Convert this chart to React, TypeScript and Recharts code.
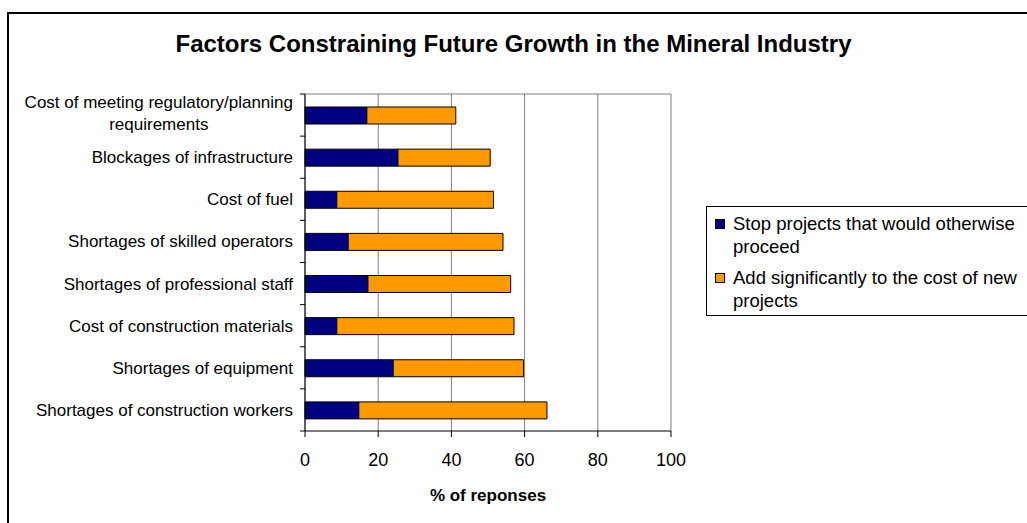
import React from "react";
import {
  Bar,
  BarChart,
  CartesianGrid,
  Label,
  Legend,
  XAxis,
  YAxis,
} from "recharts";

const categories = [
  "Cost of meeting regulatory/planning requirements",
  "Blockages of infrastructure",
  "Cost of fuel",
  "Shortages of skilled operators",
  "Shortages of professional staff",
  "Cost of construction materials",
  "Shortages of equipment",
  "Shortages of construction workers",
];
const stopProjects = [16.9, 25.4, 8.7, 11.8, 17.2, 8.7, 24.1, 14.7];
const addCost = [24.3, 25.2, 42.8, 42.3, 39.0, 48.4, 35.6, 51.4];
const xTicks = [0, 20, 40, 60, 80, 100];
const seriesNames = [
  "Stop projects that would otherwise proceed",
  "Add significantly to the cost of new projects",
];

const rows = categories.map((name, i) => ({
  name,
  stop: stopProjects[i],
  add: addCost[i],
}));

const FONT = "'Liberation Sans', Arial, sans-serif";
const W = 1027;
const H = 523;
const PLOT_LEFT = 305;
const PLOT_RIGHT = 671;
const PLOT_TOP = 94;
const PLOT_BOTTOM = 431;
const X_AXIS_H = 75;

const ctx =
  typeof document !== "undefined"
    ? document.createElement("canvas").getContext("2d")
    : null;

function textWidth(s: string, font: string) {
  if (!ctx) return s.length * 7.5;
  ctx.font = font;
  return ctx.measureText(s).width;
}

function wrap(text: string, maxChars: number) {
  const lines: string[] = [];
  let cur = "";
  for (const w of text.split(" ")) {
    if (cur && (cur + " " + w).length > maxChars) {
      lines.push(cur);
      cur = w;
    } else {
      cur = cur ? cur + " " + w : w;
    }
  }
  if (cur) lines.push(cur);
  return lines;
}

function CategoryTick(props: any) {
  const { y, payload, index } = props;
  const lines = wrap(String(payload.value), 35);
  const band = (PLOT_BOTTOM - PLOT_TOP) / categories.length;
  const right = PLOT_LEFT - 12;
  const blockW = Math.max(...lines.map((l) => textWidth(l, `17px ${FONT}`)));
  const cx = right - blockW / 2;
  const lh = 22;
  const y0 = y - ((lines.length - 1) * lh) / 2 - (lines.length > 1 ? 2 : 0);
  return (
    <g>
      <line
        x1={PLOT_LEFT - 5}
        x2={PLOT_LEFT}
        y1={y - band / 2}
        y2={y - band / 2}
        stroke="#000"
      />
      {index === categories.length - 1 && (
        <line
          x1={PLOT_LEFT - 5}
          x2={PLOT_LEFT}
          y1={y + band / 2}
          y2={y + band / 2}
          stroke="#000"
        />
      )}
      <text textAnchor="middle" fontSize={17} fontFamily={FONT} fill="#000">
        {lines.map((l, i) => (
          <tspan key={i} x={cx} y={y0 + i * lh} dy="0.35em">
            {l}
          </tspan>
        ))}
      </text>
    </g>
  );
}

function renderLegend(props: any) {
  // keep the series order (the vertical layout reverses the payload)
  const payload = [...(props.payload || [])].sort(
    (a: any, b: any) => seriesNames.indexOf(a.value) - seriesNames.indexOf(b.value)
  );
  return (
    <div
      style={{
        border: "1px solid #000",
        boxSizing: "border-box",
        width: 400,
        height: 110,
        padding: "5px 0 0 8px",
        fontFamily: FONT,
        fontSize: 18.5,
        color: "#000",
        background: "#fff",
      }}
    >
      {payload.map((entry: any, i: number) => (
        <div
          key={i}
          style={{ display: "flex", marginBottom: 8, lineHeight: "23px" }}
        >
          <span
            style={{
              width: 10,
              height: 10,
              boxSizing: "border-box",
              border: "1px solid #000",
              background: entry.color,
              marginTop: 7,
              marginRight: 8,
              flex: "none",
            }}
          />
          <div>
            {wrap(String(entry.value), 36).map((l, j) => (
              <div key={j} style={{ whiteSpace: "nowrap" }}>
                {l}
              </div>
            ))}
          </div>
        </div>
      ))}
    </div>
  );
}

export default function App() {
  return (
    <div
      style={{
        position: "fixed",
        left: 0,
        top: 0,
        width: W,
        height: H,
        overflow: "hidden",
        background: "#fff",
        fontFamily: FONT,
      }}
    >
      <div
        style={{
          position: "absolute",
          left: 7,
          top: 12,
          width: 1200,
          height: 700,
          border: "2px solid #000",
        }}
      />
      <div
        style={{
          position: "absolute",
          left: 0,
          top: 30,
          width: W,
          textAlign: "center",
          fontSize: 24,
          fontWeight: "bold",
          lineHeight: "28px",
          color: "#000",
        }}
      >
        Factors Constraining Future Growth in the Mineral Industry
      </div>
      <div style={{ position: "absolute", left: 0, top: 0 }}>
        <BarChart
          width={W}
          height={H}
          data={rows}
          layout="vertical"
          barSize={17}
          margin={{
            top: PLOT_TOP,
            right: W - PLOT_RIGHT,
            bottom: H - PLOT_BOTTOM - X_AXIS_H,
            left: 0,
          }}
        >
          <CartesianGrid stroke="#808080" horizontalPoints={[PLOT_TOP]} />
          <XAxis
            type="number"
            domain={[0, 100]}
            ticks={xTicks}
            height={X_AXIS_H}
            stroke="#000"
            tickSize={6}
            tickMargin={16}
            tick={{ fontSize: 18, fill: "#000", fontFamily: FONT }}
          >
            <Label
              value="% of reponses"
              position="insideBottom"
              offset={5}
              style={{
                fontSize: 17,
                fontWeight: "bold",
                fill: "#000",
                fontFamily: FONT,
              }}
            />
          </XAxis>
          <YAxis
            type="category"
            dataKey="name"
            width={PLOT_LEFT}
            stroke="#000"
            tickLine={false}
            interval={0}
            tick={<CategoryTick />}
          />
          <Bar
            dataKey="stop"
            name={seriesNames[0]}
            stackId="a"
            fill="#000080"
            stroke="#000"
            strokeWidth={1}
            isAnimationActive={false}
          />
          <Bar
            dataKey="add"
            name={seriesNames[1]}
            stackId="a"
            fill="#FF9900"
            stroke="#000"
            strokeWidth={1}
            isAnimationActive={false}
          />
          <Legend
            content={renderLegend}
            layout="horizontal"
            verticalAlign="middle"
            align="center"
            wrapperStyle={{
              position: "absolute",
              left: 706,
              top: 206,
              width: 400,
              height: 110,
            }}
          />
        </BarChart>
      </div>
    </div>
  );
}
